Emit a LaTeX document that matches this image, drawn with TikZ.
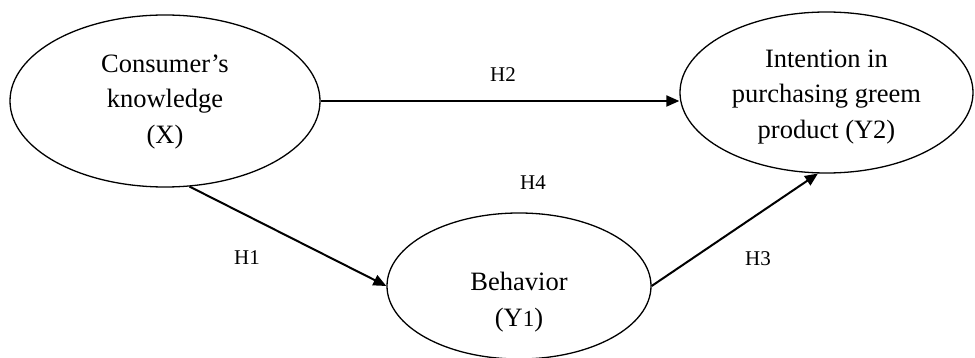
\documentclass[tikz,border=0pt]{standalone}
\usepackage{fontspec}
\setmainfont{Liberation Serif}
\usetikzlibrary{shapes.geometric,arrows.meta}
\begin{document}
\begin{tikzpicture}[x=1pt,y=-1pt,
  construct/.style={ellipse,draw,line width=1.3pt,inner sep=0pt},
  nodetext/.style={align=center,font=\fontsize{26.5}{35.5}\selectfont},
  hlabel/.style={font=\fontsize{21}{25}\selectfont},
  path/.style={line width=2pt,-{Triangle[length=13pt,width=11pt]}}]
\useasboundingbox (0,0) rectangle (975,358);
\node[construct,minimum width=310pt,minimum height=172pt] (X) at (165,101) {};
\node[nodetext] (Xt) at (165,102) {Consumer’s\\knowledge\\(X)};
\node[construct,minimum width=293pt,minimum height=161pt] (Y2) at (826.5,92.5) {};
\node[nodetext] (Y2t) at (826.5,97) {Intention in\\purchasing greem\\product (Y2)};
\node[construct,minimum width=264pt,minimum height=146pt] (Y1) at (519,286) {};
\node[nodetext] (Y1t) at (519,302) {Behavior\\(Y{\fontsize{23}{23}\selectfont 1})};
\draw[path] (X.east) -- (X.east -| Y2.west);
\draw[path] (X.-74) -- (Y1.west);
\draw[path] (Y1.east) -- (Y2.-96);
\node[hlabel] (H2) at (503,75) {H2};
\node[hlabel] (H1) at (247,258) {H1};
\node[hlabel] (H3) at (758,259) {H3};
\node[hlabel] (H4) at (533,183) {H4};
\end{tikzpicture}
\end{document}
